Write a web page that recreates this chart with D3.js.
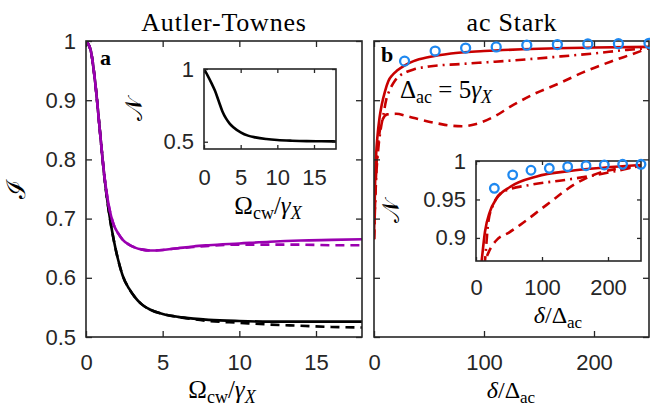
<!DOCTYPE html>
<html>
<head>
<meta charset="utf-8">
<script src="https://cdn.jsdelivr.net/npm/d3@7"></script>
<style>
  body { margin: 0; background: #fff; }
  svg { display: block; }
</style>
</head>
<body>
<div id="chart"></div>
<script>
// panel a: Autler-Townes
var omega = [0, 0.3, 0.6, 0.9, 1.2, 1.5, 1.8, 2.1, 2.4, 2.8, 3.2, 3.6, 4.2, 5, 6, 7, 8, 10, 12, 14, 16, 18];
var blackSolid = [1, 0.985, 0.93, 0.85, 0.77, 0.71, 0.665, 0.63, 0.603, 0.582, 0.567, 0.556, 0.546, 0.539, 0.534, 0.531, 0.529, 0.527, 0.526, 0.526, 0.526, 0.526];
var blackDash = [1, 0.985, 0.93, 0.85, 0.77, 0.71, 0.665, 0.63, 0.603, 0.582, 0.567, 0.556, 0.546, 0.539, 0.534, 0.530, 0.527, 0.524, 0.521, 0.519, 0.517, 0.516];
var purpleSolid = [1, 0.985, 0.93, 0.85, 0.772, 0.72, 0.69, 0.675, 0.664, 0.656, 0.651, 0.648, 0.646, 0.647, 0.650, 0.653, 0.655, 0.658, 0.661, 0.663, 0.664, 0.665];
var purpleDash = [1, 0.985, 0.93, 0.85, 0.772, 0.72, 0.69, 0.675, 0.664, 0.656, 0.651, 0.648, 0.646, 0.647, 0.650, 0.652, 0.654, 0.656, 0.656, 0.656, 0.655, 0.655];

// inset a
var omegaIn = [0, 0.5, 1, 1.5, 2, 2.5, 3, 3.5, 4, 5, 6, 7, 8.5, 10, 12, 14, 16, 18];
var nInset = [1, 0.955, 0.905, 0.85, 0.78, 0.71, 0.66, 0.625, 0.6, 0.565, 0.542, 0.53, 0.519, 0.512, 0.507, 0.504, 0.503, 0.502];

// panel b: ac Stark
var dSolid = [0, 1, 2, 3, 5, 7, 10, 13, 17, 21, 28, 36, 50, 70, 100, 150, 200, 250];
var acSolid = [0.665, 0.76, 0.81, 0.836, 0.87, 0.892, 0.915, 0.932, 0.943, 0.95, 0.959, 0.966, 0.973, 0.979, 0.983, 0.987, 0.989, 0.990];
var dDashDot = [0, 2, 4, 6, 8.5, 11, 14.5, 19, 24, 30, 36, 50, 78, 110, 139, 170, 200, 230, 250];
var acDashDot = [0.665, 0.77, 0.82, 0.85, 0.875, 0.9, 0.918, 0.933, 0.942, 0.948, 0.952, 0.957, 0.961, 0.965, 0.969, 0.974, 0.979, 0.985, 0.988];
var dDash = [0, 2, 5, 8, 12, 20, 30, 45, 60, 70, 80, 93, 110, 124, 145, 169, 190, 215, 235, 250];
var acDash = [0.665, 0.78, 0.845, 0.868, 0.876, 0.877, 0.873, 0.866, 0.86, 0.857, 0.856, 0.86, 0.873, 0.889, 0.91, 0.929, 0.947, 0.965, 0.978, 0.988];
var dCircle = [27.8, 55.6, 83.3, 111.1, 138.9, 166.7, 194.4, 222.2, 250];
var acCircle = [0.966, 0.983, 0.988, 0.990, 0.993, 0.994, 0.995, 0.9955, 0.996];

// inset b
var dInSolid = [0, 5, 8.6, 13.6, 21, 31, 52, 92, 142, 193, 250];
var nSolid = [0.78, 0.84, 0.87, 0.908, 0.934, 0.951, 0.9666, 0.98, 0.987, 0.9913, 0.9948];
var dInDashDot = [0, 8, 13.6, 18.7, 26, 41, 82, 132, 183, 218, 250];
var nDashDot = [0.75, 0.83, 0.87, 0.921, 0.943, 0.96, 0.969, 0.975, 0.982, 0.988, 0.994];
var dInDash = [0, 7, 14, 20, 31, 50, 67, 107, 152, 193, 250];
var nDash = [0.80, 0.845, 0.87, 0.883, 0.897, 0.907, 0.917, 0.943, 0.971, 0.986, 0.9926];
var nCircle = [0.9645, 0.982, 0.988, 0.9905, 0.9926, 0.9939, 0.9948, 0.9957, 0.9957];

var black = "#000000", purple = "#9a00b0", red = "#c80000", blue = "#1e88f0", axisCol = "#262626";
var serif = "'Liberation Serif', 'DejaVu Serif', serif";
var sans = "'Liberation Sans', Arial, sans-serif";

var svg = d3.select("#chart").append("svg")
    .attr("width", 650).attr("height", 409);

function zip(xs, ys) {
  var out = [];
  for (var i = 0; i < xs.length; i++) out.push([xs[i], ys[i]]);
  return out;
}

function makeAxes(o) {
  var x = d3.scaleLinear().domain(o.xd).range([o.l, o.r]);
  var y = d3.scaleLinear().domain(o.yd).range([o.b, o.t]);
  var g = svg.append("g");
  g.append("rect").attr("x", o.l).attr("y", o.t)
    .attr("width", o.r - o.l).attr("height", o.b - o.t).attr("fill", "#fff");
  svg.append("clipPath").attr("id", o.id).append("rect")
    .attr("x", o.l).attr("y", o.t).attr("width", o.r - o.l).attr("height", o.b - o.t);
  var plot = g.append("g").attr("clip-path", "url(#" + o.id + ")");
  var ax = g.append("g");

  var fmtX = o.xLabels ? d3.format("") : function () { return ""; };
  var fmtY = o.yLabels ? function (d) { return d3.format("")(+d.toFixed(2)); } : function () { return ""; };

  ax.append("g").attr("transform", "translate(0," + o.b + ")")
    .call(d3.axisBottom(x).tickValues(o.xt).tickSize(-o.tl).tickPadding(o.xpad).tickFormat(fmtX));
  ax.append("g").attr("transform", "translate(0," + o.t + ")")
    .call(d3.axisTop(x).tickValues(o.xt).tickSize(-o.tl).tickFormat(""));
  ax.append("g").attr("transform", "translate(" + o.l + ",0)")
    .call(d3.axisLeft(y).tickValues(o.yt).tickSize(-o.tl).tickPadding(o.ypad).tickFormat(fmtY));
  ax.append("g").attr("transform", "translate(" + o.r + ",0)")
    .call(d3.axisRight(y).tickValues(o.yt).tickSize(-o.tl).tickFormat(""));
  ax.selectAll(".domain").remove();
  ax.selectAll(".tick line").attr("stroke", axisCol).attr("stroke-width", 1.3);
  ax.selectAll(".tick text").attr("fill", axisCol)
    .style("font-family", sans).style("font-size", "22px");
  ax.append("rect").attr("x", o.l).attr("y", o.t)
    .attr("width", o.r - o.l).attr("height", o.b - o.t)
    .attr("fill", "none").attr("stroke", axisCol).attr("stroke-width", 1.6);
  return {x: x, y: y, plot: plot};
}

function drawLine(a, xs, ys, color, dash, width) {
  var line = d3.line().curve(d3.curveMonotoneX)
    .x(function (d) { return a.x(d[0]); })
    .y(function (d) { return a.y(d[1]); });
  a.plot.append("path").datum(zip(xs, ys))
    .attr("d", line).attr("fill", "none")
    .attr("stroke", color).attr("stroke-width", width || 2.6)
    .attr("stroke-dasharray", dash || null)
    .attr("stroke-linejoin", "round");
}

function drawCircles(a, xs, ys, r) {
  svg.append("g").selectAll("circle").data(zip(xs, ys)).enter().append("circle")
    .attr("cx", function (d) { return a.x(d[0]); })
    .attr("cy", function (d) { return a.y(d[1]); })
    .attr("r", r).attr("fill", "none")
    .attr("stroke", blue).attr("stroke-width", 2.3);
}

// math-ish label made of tspans
function mathText(x, y, parts, size, anchor, rotate) {
  var t = svg.append("text").attr("x", x).attr("y", y)
    .attr("text-anchor", anchor || "middle")
    .style("font-family", serif).style("font-size", size + "px").attr("fill", "#000");
  if (rotate) t.attr("transform", "rotate(-90," + x + "," + y + ")");
  parts.forEach(function (p) {
    var s = t.append("tspan").text(p.t);
    if (p.i) s.style("font-style", "italic");
    if (p.sub) s.style("font-size", Math.round(size * 0.7) + "px").attr("dy", 5);
    if (p.up) s.attr("dy", -5);
    if (p.dx) s.attr("dx", p.dx);
  });
  return t;
}

var dash = "9,6", dashDot = "10,5,2,5";

// ---- panel a ----
var A = makeAxes({id: "ca", l: 86, r: 362, t: 41, b: 337, xd: [0, 18], yd: [0.5, 1],
  xt: [0, 5, 10, 15], yt: [0.5, 0.6, 0.7, 0.8, 0.9, 1], tl: 6, xpad: 17, ypad: 10, xLabels: true, yLabels: true});
drawLine(A, omega, blackDash, black, dash);
drawLine(A, omega, blackSolid, black);
drawLine(A, omega, purpleDash, purple, dash);
drawLine(A, omega, purpleSolid, purple);

var AI = makeAxes({id: "cai", l: 204, r: 336, t: 69, b: 149, xd: [0, 18], yd: [0.45, 1],
  xt: [0, 5, 10, 15], yt: [0.5, 1], tl: 4, xpad: 20, ypad: 10, xLabels: true, yLabels: true});
drawLine(AI, omegaIn, nInset, black);

// ---- panel b ----
var B = makeAxes({id: "cb", l: 374, r: 649, t: 41, b: 337, xd: [0, 250], yd: [0.5, 1],
  xt: [0, 100, 200], yt: [0.5, 0.6, 0.7, 0.8, 0.9, 1], tl: 6, xpad: 17, ypad: 10, xLabels: true, yLabels: false});
drawLine(B, dDash, acDash, red, dash);
drawLine(B, dDashDot, acDashDot, red, dashDot);
drawLine(B, dSolid, acSolid, red);
drawCircles(B, dCircle, acCircle, 4.5);

var BI = makeAxes({id: "cbi", l: 476, r: 641, t: 161, b: 261, xd: [0, 250], yd: [0.87, 1],
  xt: [0, 100, 200], yt: [0.9, 0.95, 1], tl: 4, xpad: 18, ypad: 10, xLabels: true, yLabels: true});
drawLine(BI, dInDash, nDash, red, dash);
drawLine(BI, dInDashDot, nDashDot, red, dashDot);
drawLine(BI, dInSolid, nSolid, red);
drawCircles(BI, dCircle, nCircle, 4.3);

// ---- text ----
mathText(224, 31, [{t: "Autler-Townes"}], 26).style("letter-spacing", "0.8px");
mathText(512, 31, [{t: "ac Stark"}], 26).style("letter-spacing", "0.8px");
mathText(222, 398, [{t: "Ω"}, {t: "cw", sub: true}, {t: "/", up: true}, {t: "γ", i: true}, {t: "X", i: true, sub: true}], 25);
mathText(268, 214, [{t: "Ω"}, {t: "cw", sub: true}, {t: "/", up: true}, {t: "γ", i: true}, {t: "X", i: true, sub: true}], 25);
mathText(511, 398, [{t: "δ", i: true}, {t: "/"}, {t: "Δ"}, {t: "ac", sub: true}], 24);
mathText(558, 323, [{t: "δ", i: true}, {t: "/"}, {t: "Δ"}, {t: "ac", sub: true}], 24);
mathText(400, 98, [{t: "Δ"}, {t: "ac", sub: true}, {t: " = 5", up: true}, {t: "γ", i: true}, {t: "X", i: true, sub: true}], 25, "start");
mathText(25, 189, [{t: "ℐ"}], 26, "middle", true);
mathText(142, 109, [{t: "𝒩"}], 24, "middle", true);
mathText(399, 211, [{t: "𝒩"}], 24, "middle", true);
svg.append("text").attr("x", 100).attr("y", 65).text("a")
  .style("font-family", serif).style("font-weight", "bold").style("font-size", "22px");
svg.append("text").attr("x", 381).attr("y", 62).text("b")
  .style("font-family", serif).style("font-weight", "bold").style("font-size", "22px");
</script>
</body>
</html>
